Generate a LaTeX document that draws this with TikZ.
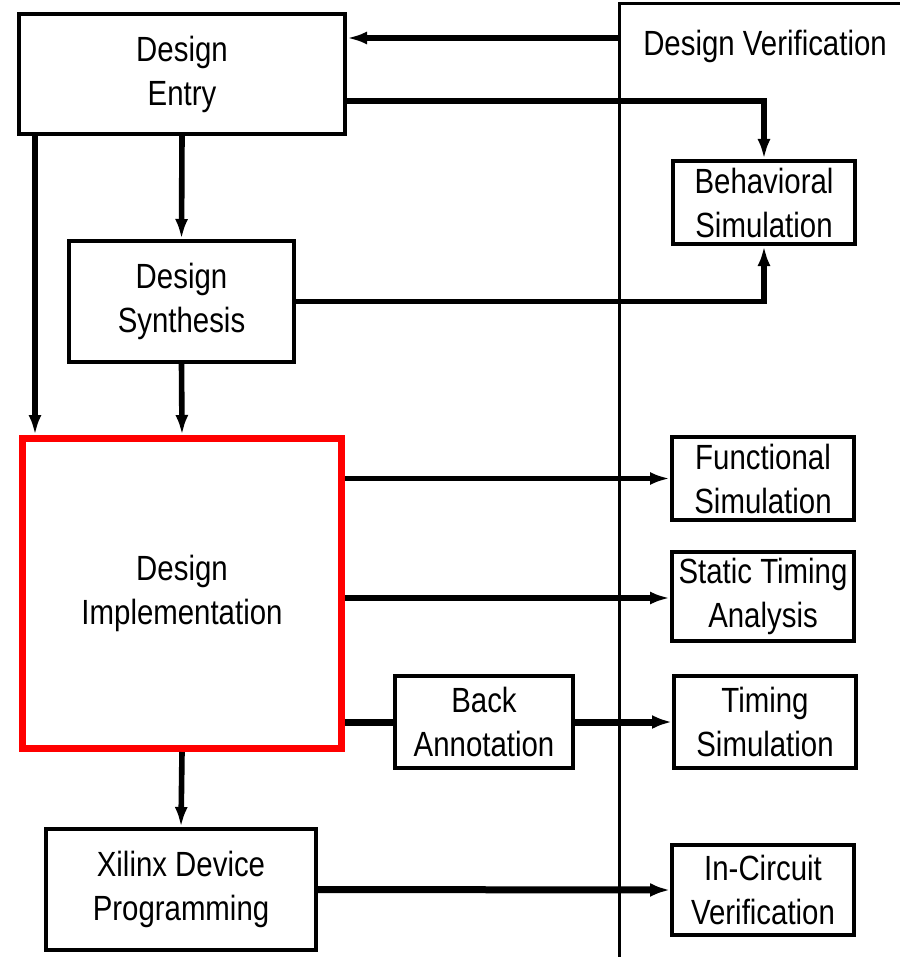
\documentclass[tikz,border=0pt]{standalone}
\usepackage{fontspec}
\setmainfont[FakeStretch=0.84]{Liberation Sans}
\usetikzlibrary{arrows.meta}

\begin{document}
\begin{tikzpicture}[
    x=0.5pt,y=-0.5pt,
    every node/.style={font=\fontsize{17.5pt}{22pt}\selectfont},
    box/.style={draw=black, line width=2pt, inner sep=0pt, align=center},
    sidebox/.style={box, minimum width=91pt},
    conn/.style={line width=2.8pt, -{Latex[length=10pt,width=6.5pt]}},
    link/.style={line width=3.5pt},
    thickconn/.style={link, -{Latex[length=10pt,width=7pt]}},
    vframe/.style={line width=1.5pt}
]
    \useasboundingbox (0,0) rectangle (900,957);

    % verification column
    \draw[vframe] (619,957) -- (619,4) -- (900,4);
    \node[anchor=base] (dvlabel) at (765,56) {Design Verification};
    \coordinate (dvin) at (619,38);

    \node[box, minimum width=163pt, minimum height=60pt] (entry) at (182,74) {Design\\Entry};
    \node[box, minimum width=112.5pt, minimum height=60.5pt] (synth) at (181.5,301.5) {Design\\Synthesis};
    \node[box, draw=red, line width=3.5pt, minimum width=159.5pt, minimum height=155pt] (impl) at (182,593.5) {Design\\Implementation};
    \node[box, minimum width=135pt, minimum height=60.5pt] (xprog) at (181,889.5) {Xilinx Device\\Programming};
    \node[box, minimum width=89pt, minimum height=46pt] (backann) at (484,722) {Back\\Annotation};

    \node[sidebox, minimum height=41.5pt] (behav) at (764,202.5) {Behavioral\\Simulation};
    \node[sidebox, minimum height=41.5pt] (funcsim) at (763,478.5) {Functional\\Simulation};
    \node[sidebox, minimum height=44.5pt] (sta) at (763,596.5) {Static Timing\\Analysis};
    \node[sidebox, minimum height=46pt] (timsim) at (765,722) {Timing\\Simulation};
    \node[sidebox, minimum height=45pt] (incirc) at (763,890) {In-Circuit\\Verification};

    \draw[conn] (dvin) -- (entry.east |- dvin);
    \draw[conn] (entry.east |- 0,101) -| (behav.north);
    \draw[conn] (synth.east) -| (behav.south);
    \draw[conn] (entry.south) -- (synth.north);
    \draw[conn] (entry.south -| 35,0) -- (impl.north -| 35,0);
    \draw[conn] (synth.south) -- (impl.north);

    \draw[conn] (impl.east |- funcsim.west) -- (funcsim.west);
    \draw[conn] (impl.east |- 0,598) -- (sta.west |- 0,598);
    \draw[link] (impl.east |- backann.west) -- (backann.west);
    \draw[thickconn] (backann.east) -- (timsim.west);

    \draw[conn] (impl.south) -- (xprog.north);
    \draw[thickconn] (xprog.east) -- (incirc.west);
\end{tikzpicture}
\end{document}
